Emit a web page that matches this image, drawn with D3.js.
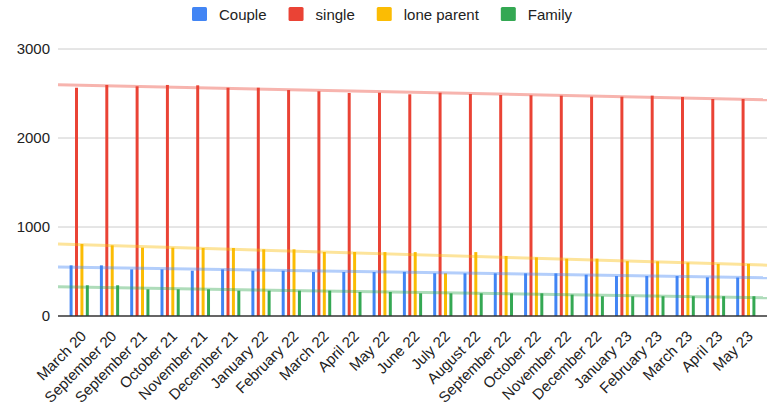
<!DOCTYPE html>
<html>
<head>
<meta charset="utf-8">
<script src="https://cdn.jsdelivr.net/npm/d3@7/dist/d3.min.js"></script>
<style>
  html, body { margin: 0; padding: 0; background: #fff; }
  svg { display: block; font-family: "Liberation Sans", Arial, sans-serif; }
</style>
</head>
<body>
<svg id="chart" width="773" height="406"></svg>
<script>
const categories = ["March 20","September 20","September 21","October 21","November 21","December 21","January 22","February 22","March 22","April 22","May 22","June 22","July 22","August 22","September 22","October 22","November 22","December 22","January 23","February 23","March 23","April 23","May 23"];
const seriesNames = ["Couple","single","lone parent","Family"];
const couple = [569,569,524,524,509,524,509,509,494,494,494,496,480,479,479,479,479,464,449,449,449,434,432];
const single = [2565,2596,2581,2596,2592,2565,2565,2539,2525,2506,2509,2491,2509,2494,2483,2480,2476,2464,2464,2476,2461,2438,2438];
const loneParent = [809,794,768,768,764,764,749,749,719,719,718,718,480,718,674,659,644,644,616,614,601,586,586];
const family = [345,345,300,300,300,285,285,285,285,270,270,255,255,255,255,255,240,222,222,222,222,222,222];
const yTicks = [0,1000,2000,3000];
const colors = ["#4285F4","#EA4335","#FBBC04","#34A853"];

const seriesValues = [couple, single, loneParent, family];

const svg = d3.select("#chart");
const mLeft = 58, mRight = 767, mTop = 49, mBottom = 316;

const x = d3.scaleBand().domain(categories).range([mLeft, mRight]).paddingInner(0.366).paddingOuter(0.383);
const xs = d3.scaleBand().domain(seriesNames).range([0, x.bandwidth()]).paddingInner(0.45).paddingOuter(0);
const y = d3.scaleLinear().domain([0, 3000]).range([mBottom, mTop]);

// gridlines
svg.append("g").selectAll("line").data(yTicks.filter(d => d > 0)).join("line")
  .attr("x1", mLeft).attr("x2", mRight)
  .attr("y1", d => y(d)).attr("y2", d => y(d))
  .attr("stroke", "#cccccc").attr("stroke-width", 1);

// y labels
svg.append("g").selectAll("text").data(yTicks).join("text")
  .attr("x", 50).attr("y", d => y(d)).attr("dy", "0.35em")
  .attr("text-anchor", "end").attr("font-size", 15).attr("fill", "#222")
  .text(d => d);

// bars
const rows = [];
categories.forEach((c, i) => seriesNames.forEach((s, k) => rows.push({c, s, k, v: seriesValues[k][i]})));
svg.append("g").selectAll("rect").data(rows).join("rect")
  .attr("x", d => x(d.c) + xs(d.s))
  .attr("width", xs.bandwidth())
  .attr("y", d => y(d.v))
  .attr("height", d => y(0) - y(d.v))
  .attr("fill", d => colors[d.k]);

// trendlines (least squares on category index)
const step = x.step();
const c0 = x(categories[0]) + x.bandwidth() / 2;
const idxAt = px => (px - c0) / step;
seriesValues.forEach((vals, k) => {
  const mx = d3.mean(vals, (v, i) => i), my = d3.mean(vals);
  const sxy = d3.sum(vals, (v, i) => (i - mx) * (v - my));
  const sxx = d3.sum(vals, (v, i) => (i - mx) * (i - mx));
  const b = sxy / sxx, a = my - b * mx;
  const pts = [mLeft, mRight].map(px => [px, y(a + b * idxAt(px))]);
  svg.append("path").attr("d", d3.line()(pts))
    .attr("stroke", colors[k]).attr("stroke-opacity", 0.4)
    .attr("stroke-width", 3).attr("fill", "none");
});

// baseline
svg.append("line").attr("x1", mLeft).attr("x2", mRight)
  .attr("y1", y(0)).attr("y2", y(0))
  .attr("stroke", "#333").attr("stroke-width", 1.5);

// x labels
svg.append("g").selectAll("text").data(categories).join("text")
  .attr("transform", d => `translate(${x(d) + x.bandwidth() / 2 + 8},337) rotate(-45)`)
  .attr("text-anchor", "end").attr("font-size", 15).attr("fill", "#222")
  .text(d => d);

// legend
const lg = svg.append("g");
let lx = 192;
seriesNames.forEach((s, k) => {
  lg.append("rect").attr("x", lx).attr("y", 7).attr("width", 15).attr("height", 14)
    .attr("rx", 1.5).attr("fill", colors[k]);
  const t = lg.append("text").attr("x", lx + 27).attr("y", 19.5)
    .attr("font-size", 15).attr("fill", "#222").text(s);
  lx += 27 + t.node().getComputedTextLength() + 22;
});
</script>
</body>
</html>
